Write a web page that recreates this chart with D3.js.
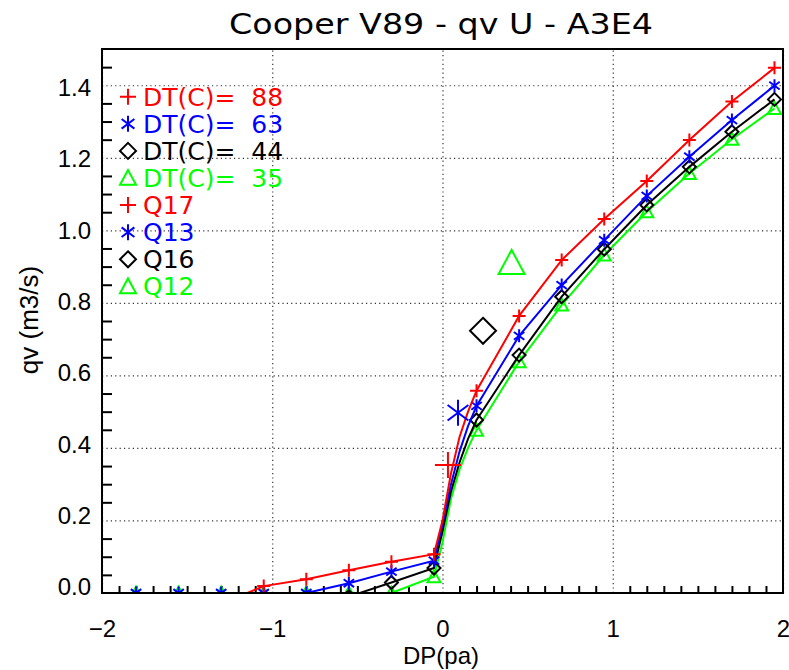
<!DOCTYPE html>
<html>
<head>
<meta charset="utf-8">
<script src="https://cdn.jsdelivr.net/npm/d3@7"></script>
<style>
  body { margin: 0; background: #fff; }
  svg { display: block; }
</style>
</head>
<body>
<svg id="chart" width="789" height="670"></svg>
<script>
// DP (pa) at the plotted markers
const dp = [-1.8, -1.55, -1.3, -1.05, -0.8, -0.55, -0.3, -0.05, 0.2, 0.45, 0.7, 0.95, 1.2, 1.45, 1.7, 1.95];
// qv (m3/s) for each DT curve
const qvDT88 = [-0.08, -0.06, -0.03, 0.019, 0.038, 0.063, 0.086, 0.107, 0.558, 0.764, 0.918, 1.031, 1.136, 1.249, 1.355, 1.448];
const qvDT63 = [0, 0, 0, 0, 0, 0.027, 0.059, 0.089, 0.516, 0.709, 0.849, 0.973, 1.095, 1.203, 1.304, 1.399];
const qvDT44 = [-0.04, -0.04, -0.03, -0.03, -0.02, -0.01, 0.029, 0.069, 0.477, 0.656, 0.817, 0.948, 1.070, 1.175, 1.272, 1.361];
const qvDT35 = [0, 0, 0, 0, 0, 0, 0, 0.045, 0.449, 0.638, 0.794, 0.932, 1.051, 1.157, 1.251, 1.336];
// extra points read on the steep part of the curves (no markers there)
const dpSteep = [0.0, 0.05, 0.1, 0.15];
const steepDT88 = [0.20, 0.33, 0.43, 0.50];
const steepDT63 = [0.19, 0.30, 0.39, 0.46];
const steepDT44 = [0.17, 0.28, 0.36, 0.425];
const steepDT35 = [0.14, 0.26, 0.34, 0.40];
// single measured points
const qNames = ["Q17", "Q13", "Q16", "Q12"];
const qDp = [0.032, 0.091, 0.238, 0.406];
const qQv = [0.353, 0.497, 0.723, 0.910];
// legend / ticks
const dtLabels = ["DT(C)=  88", "DT(C)=  63", "DT(C)=  44", "DT(C)=  35"];
const xTicks = [-2, -1, 0, 1, 2];
const yTicks = [0, 0.2, 0.4, 0.6, 0.8, 1.0, 1.2, 1.4];

const colors = ["#ff0000", "#0000ff", "#000000", "#00ff00"];
const symbols = ["plus", "star", "diamond", "triangle"];

const svg = d3.select("#chart");
const pLeft = 102, pRight = 783, pTop = 49, pBottom = 593;
const x = d3.scaleLinear().domain([-2, 2]).range([pLeft, pRight]);
const y = d3.scaleLinear().domain([0, 1.5]).range([pBottom, pTop]);
// the y tick labels sit on a slightly tighter spacing than the grid
const yLabel = d3.scaleLinear().domain([0, 1.4]).range([587, 88]);

function symbolPath(type, s) {
  if (type === "plus") return `M${-s},0H${s}M0,${-s}V${s}`;
  if (type === "star") {
    const a = s * 0.8, b = s * 0.6;
    return `M0,${-s}V${s}M${-a},${-b}L${a},${b}M${-a},${b}L${a},${-b}`;
  }
  if (type === "diamond") return `M0,${-s}L${s},0L0,${s}L${-s},0Z`;
  return `M${-s},${s * 0.85}L0,${-s}L${s},${s * 0.85}Z`;
}

svg.append("defs").append("clipPath").attr("id", "plotclip")
  .append("rect").attr("x", pLeft).attr("y", pTop)
  .attr("width", pRight - pLeft).attr("height", pBottom - pTop);

// grid + labels
const xAxis = svg.append("g").attr("transform", `translate(0,${pBottom})`)
  .call(d3.axisBottom(x).tickValues(xTicks).tickSize(-(pBottom - pTop)).tickPadding(27).tickFormat(d3.format("d")));
const yAxis = svg.append("g").attr("transform", `translate(${pLeft},0)`)
  .call(d3.axisLeft(y).tickValues(yTicks).tickSize(-(pRight - pLeft)).tickPadding(11).tickFormat(d3.format(".1f")));
yAxis.selectAll(".tick text").attr("y", d => yLabel(d) - y(d));
[xAxis, yAxis].forEach(g => {
  g.select(".domain").remove();
  g.selectAll(".tick line").attr("stroke", "#333").attr("stroke-width", 1.2).attr("stroke-dasharray", "1.2,3.2");
  g.selectAll(".tick text").attr("font-family", "Liberation Sans, Arial, sans-serif").attr("font-size", 24).attr("fill", "#000");
});

// minor ticks
const xMinor = d3.range(-20, 21).map(d => d / 10).filter(d => Math.abs(d - Math.round(d)) > 1e-6);
svg.append("g").attr("transform", `translate(0,${pBottom})`)
  .call(d3.axisBottom(x).tickValues(xMinor).tickSize(-7).tickFormat(""))
  .call(g => g.select(".domain").remove())
  .selectAll("line").attr("stroke", "#000").attr("stroke-width", 2);
const yMinor = d3.range(1, 30).map(d => d / 20).filter(d => Math.abs(d * 5 - Math.round(d * 5)) > 1e-6);
svg.append("g").attr("transform", `translate(${pLeft},0)`)
  .call(d3.axisLeft(y).tickValues(yMinor).tickSize(-10).tickFormat(""))
  .call(g => g.select(".domain").remove())
  .selectAll("line").attr("stroke", "#000").attr("stroke-width", 2);

// curves
const series = [qvDT88, qvDT63, qvDT44, qvDT35];
const steep = [steepDT88, steepDT63, steepDT44, steepDT35];
const line = d3.line().x(d => x(d[0])).y(d => y(d[1]));
const plot = svg.append("g").attr("clip-path", "url(#plotclip)");

series.slice().reverse().forEach((vals, ri) => {
  const i = series.length - 1 - ri;
  const pts = dp.map((d, k) => [d, vals[k]]).concat(dpSteep.map((d, k) => [d, steep[i][k]]))
    .sort((a, b) => a[0] - b[0]);
  plot.append("path").attr("d", line(pts)).attr("fill", "none")
    .attr("stroke", colors[i]).attr("stroke-width", 2);
  plot.selectAll(null).data(dp.map((d, k) => [d, vals[k]])).enter().append("path")
    .attr("transform", d => `translate(${x(d[0])},${y(d[1])})`)
    .attr("d", symbolPath(symbols[i], 6.5)).attr("fill", "none")
    .attr("stroke", colors[i]).attr("stroke-width", 2);
});

// single Q points
plot.selectAll(null).data(qDp).enter().append("path")
  .attr("transform", (d, k) => `translate(${x(d)},${y(qQv[k])})`)
  .attr("d", (d, k) => symbolPath(symbols[k], 13)).attr("fill", "none")
  .attr("stroke", (d, k) => colors[k]).attr("stroke-width", 2);

// frame
svg.append("rect").attr("x", pLeft).attr("y", pTop).attr("width", pRight - pLeft).attr("height", pBottom - pTop)
  .attr("fill", "none").attr("stroke", "#000").attr("stroke-width", 2);

// legend
const legendItems = dtLabels.concat(qNames);
const lg = svg.append("g");
legendItems.forEach((t, i) => {
  const cy = 96.7 + i * 27.1;
  lg.append("path").attr("transform", `translate(128,${cy})`)
    .attr("d", symbolPath(symbols[i % 4], 8)).attr("fill", "none")
    .attr("stroke", colors[i % 4]).attr("stroke-width", 2);
  lg.append("text").attr("x", 143).attr("y", cy + 9).attr("fill", colors[i % 4])
    .attr("font-family", "DejaVu Sans, sans-serif").attr("font-size", 25)
    .style("white-space", "pre").text(t);
});

// title and axis titles
svg.append("text").attr("x", 441).attr("y", 34).attr("text-anchor", "middle")
  .attr("font-family", "DejaVu Sans, sans-serif").attr("font-size", 28)
  .attr("textLength", 424).attr("lengthAdjust", "spacingAndGlyphs")
  .text("Cooper V89 - qv U - A3E4");
svg.append("text").attr("x", 441).attr("y", 664).attr("text-anchor", "middle")
  .attr("font-family", "Liberation Sans, Arial, sans-serif").attr("font-size", 24)
  .text("DP(pa)");
svg.append("text").attr("transform", "translate(38,320) rotate(-90)").attr("text-anchor", "middle")
  .attr("font-family", "Liberation Sans, Arial, sans-serif").attr("font-size", 26)
  .text("qv (m3/s)");
</script>
</body>
</html>
